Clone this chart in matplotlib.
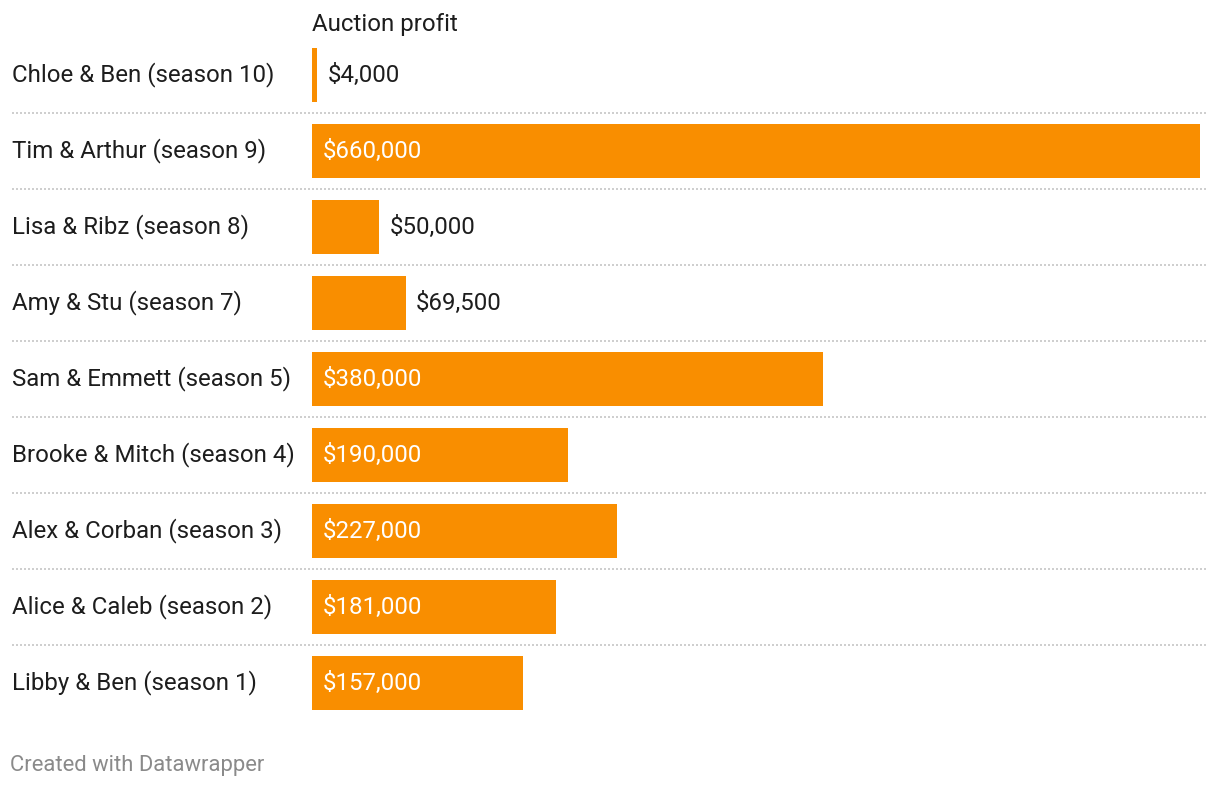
import matplotlib.pyplot as plt

couples = ['Chloe & Ben (season 10)', 'Tim & Arthur (season 9)', 'Lisa & Ribz (season 8)',
           'Amy & Stu (season 7)', 'Sam & Emmett (season 5)', 'Brooke & Mitch (season 4)',
           'Alex & Corban (season 3)', 'Alice & Caleb (season 2)', 'Libby & Ben (season 1)']
profit = [4000, 660000, 50000, 69500, 380000, 190000, 227000, 181000, 157000]

plt.rcParams['font.family'] = ['Roboto', 'DejaVu Sans']

W, H = 1220, 786
fig = plt.figure(figsize=(W / 100, H / 100), dpi=100)
# axes box in pixels: x 312..1200, y 37..721
ax = fig.add_axes([312 / W, 1 - 721 / H, 888 / W, 684 / H])

orange = '#f98e00'
dark = '#1d1d1d'
fs = 17.3
ypos = list(range(len(couples)))

ax.barh(ypos, profit, height=54 / 76, color=orange)
ax.set_xlim(0, max(profit))
ax.set_ylim(len(couples) - 0.5, -0.5)
ax.axis('off')

for y, name, v in zip(ypos, couples, profit):
    ax.text(-300 / 888, y, name, transform=ax.get_yaxis_transform(), ha='left', va='center',
            fontsize=fs, color=dark)
    lab = f'${v:,}'
    if v > 100000:
        ax.annotate(lab, (0, y), xytext=(8, 0), textcoords='offset points',
                    ha='left', va='center', fontsize=fs, color='white')
    else:
        ax.annotate(lab, (v, y), xytext=(7.5, 0), textcoords='offset points',
                    ha='left', va='center', fontsize=fs, color=dark)

# dotted separators between rows
for y in ypos[:-1]:
    ax.axhline(y + 0.5, xmin=-300 / 888, xmax=896 / 888, color='#cfcfcf',
               lw=1.44, ls=(0, (1, 1)), clip_on=False)

fig.text(312 / W, 1 - 24 / H, 'Auction profit', ha='left', va='center', fontsize=fs, color=dark)
fig.text(10 / W, 1 - 765 / H, 'Created with Datawrapper', ha='left', va='center',
         fontsize=15.8, color='#8a8a8a')

fig.savefig('out.png', dpi=100)
